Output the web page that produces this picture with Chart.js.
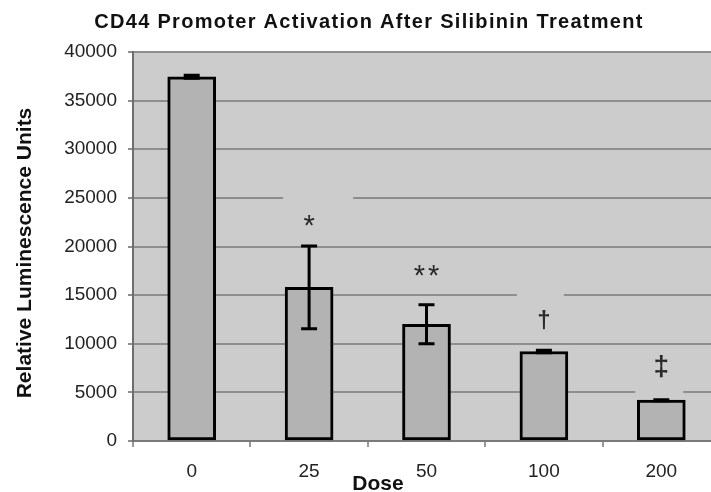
<!DOCTYPE html>
<html>
<head>
<meta charset="utf-8">
<title>CD44 Promoter Activation After Silibinin Treatment</title>
<script src="https://cdn.jsdelivr.net/npm/chart.js@4/dist/chart.umd.min.js"></script>
<style>
  html, body { margin: 0; padding: 0; background: #fff; overflow: hidden; }
  #chartCanvas { display: block; }
</style>
</head>
<body>
<canvas id="chartCanvas" width="740" height="492"></canvas>
<script>
// values
const doses = ['0', '25', '50', '100', '200'];
const luminescence = [37450, 15800, 12000, 9200, 4200];
const luminescenceErr = [150, 4250, 2000, 120, 50];
const significance = ['', '*', '**', '\u2020', '\u2021'];
const yTicks = [0, 5000, 10000, 15000, 20000, 25000, 30000, 35000, 40000];

const FONT = '"Liberation Sans", Arial, Helvetica, sans-serif';
const PLOT_BG = '#cccccc';

// how far each mark sits above its error bar, and the patch of plot colour
// behind it that breaks the gridline (left, right, top, bottom from mark centre)
const markStyles = [
  null,
  { lift: 26, font: '29px', spacing: 0, box: [-26, 44, -26, 10] },
  { lift: 34, font: '29px', spacing: 3, box: null },
  { lift: 30, font: 'bold 24px', spacing: 0, box: [-27, 20, -27, 10] },
  { lift: 33, font: 'bold 28px', spacing: 0, box: [-26, 22, -12, 28] },
];

// grey plot background
const plotBackground = {
  id: 'plotBackground',
  beforeDraw(chart) {
    const { ctx, chartArea } = chart;
    ctx.save();
    ctx.fillStyle = PLOT_BG;
    ctx.fillRect(chartArea.left, chartArea.top, chartArea.right - chartArea.left, chartArea.bottom - chartArea.top);
    ctx.restore();
  },
};

// significance marks over the bars
const significanceMarks = {
  id: 'significanceMarks',
  beforeDatasetsDraw(chart) {
    const { ctx } = chart;
    const y = chart.scales.y;
    const meta = chart.getDatasetMeta(0);
    ctx.save();
    meta.data.forEach((bar, i) => {
      const style = markStyles[i];
      if (!style || !significance[i]) return;
      const top = y.getPixelForValue(luminescence[i] + luminescenceErr[i]);
      const cx = bar.x;
      const cy = top - style.lift;
      if (style.box) {
        const b = style.box;
        ctx.fillStyle = PLOT_BG;
        ctx.fillRect(cx + b[0], cy + b[2], b[1] - b[0], b[3] - b[2]);
      }
      ctx.font = style.font + ' ' + FONT;
      ctx.letterSpacing = style.spacing + 'px';
      ctx.fillStyle = '#2a2a2a';
      ctx.textAlign = 'center';
      ctx.textBaseline = 'alphabetic';
      const m = ctx.measureText(significance[i]);
      const base = cy + (m.actualBoundingBoxAscent - m.actualBoundingBoxDescent) / 2;
      ctx.fillText(significance[i], cx + style.spacing / 2, base);
    });
    ctx.restore();
  },
};

// error bars
const errorBars = {
  id: 'errorBars',
  afterDatasetsDraw(chart) {
    const { ctx } = chart;
    const y = chart.scales.y;
    const meta = chart.getDatasetMeta(0);
    ctx.save();
    ctx.strokeStyle = '#000';
    ctx.lineWidth = 3;
    meta.data.forEach((bar, i) => {
      const hi = y.getPixelForValue(luminescence[i] + luminescenceErr[i]);
      const lo = y.getPixelForValue(luminescence[i] - luminescenceErr[i]);
      const x = bar.x;
      ctx.beginPath();
      ctx.moveTo(x, hi);
      ctx.lineTo(x, lo);
      ctx.moveTo(x - 8, hi);
      ctx.lineTo(x + 8, hi);
      ctx.moveTo(x - 8, lo);
      ctx.lineTo(x + 8, lo);
      ctx.stroke();
    });
    ctx.restore();
  },
};

// chart title and axis titles, placed where the original has them
const chartTexts = {
  id: 'chartTexts',
  afterDraw(chart) {
    const { ctx } = chart;
    ctx.save();
    ctx.fillStyle = '#111';
    ctx.textAlign = 'center';
    ctx.textBaseline = 'alphabetic';

    ctx.font = 'bold 20px ' + FONT;
    ctx.letterSpacing = '1.3px';
    ctx.fillText('CD44 Promoter Activation After Silibinin Treatment', 369, 28);

    ctx.font = 'bold 21px ' + FONT;
    ctx.letterSpacing = '0px';
    ctx.fillText('Dose', 378, 490);

    ctx.translate(31, 253);
    ctx.rotate(-Math.PI / 2);
    ctx.fillText('Relative Luminescence Units', 0, 0);
    ctx.restore();
  },
};

const ctx = document.getElementById('chartCanvas').getContext('2d');
new Chart(ctx, {
  type: 'bar',
  data: {
    labels: doses,
    datasets: [
      {
        data: luminescence,
        backgroundColor: '#b3b3b3',
        borderColor: '#000',
        borderWidth: 3,
        borderSkipped: false,
        barThickness: 48,
      },
    ],
  },
  options: {
    responsive: false,
    animation: false,
    layout: { padding: { top: 52, right: 20, bottom: 0, left: 0 } },
    plugins: {
      legend: { display: false },
      title: { display: false },
      tooltip: { enabled: false },
    },
    scales: {
      x: {
        afterFit(scale) { scale.height = 51; },
        grid: {
          offset: true,
          drawOnChartArea: false,
          tickLength: 6,
          color: '#999',
          lineWidth: 2,
        },
        border: { color: '#7a7a7a', width: 2 },
        ticks: {
          padding: 13,
          color: '#222',
          font: { family: FONT, size: 19 },
        },
      },
      y: {
        min: yTicks[0],
        max: yTicks[yTicks.length - 1],
        afterFit(scale) { scale.width = 133; },
        grid: {
          color: '#8e8e8e',
          lineWidth: 2,
          tickLength: 5,
        },
        border: { color: '#6e6e6e', width: 2 },
        ticks: {
          stepSize: yTicks[1] - yTicks[0],
          padding: 11,
          color: '#222',
          font: { family: FONT, size: 19 },
          callback: (value) => String(value),
        },
      },
    },
  },
  plugins: [plotBackground, significanceMarks, errorBars, chartTexts],
});
</script>
</body>
</html>
